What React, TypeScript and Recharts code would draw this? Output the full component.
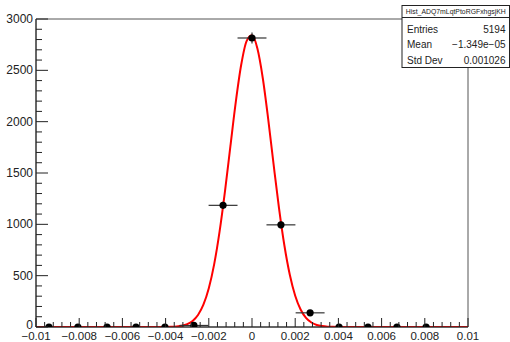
import React from "react";
import {
  ComposedChart,
  ErrorBar,
  Line,
  ReferenceArea,
  Scatter,
  XAxis,
  YAxis,
} from "recharts";

// histogram bins (centre, count, errors)
const BIN_CENTERS = [
  -0.0094, -0.00806, -0.00671, -0.00537, -0.00403, -0.00269, -0.00134, 0,
  0.00134, 0.00269, 0.00403, 0.00537, 0.00671, 0.00806,
];
const BIN_COUNTS = [0, 0, 0, 0, 0, 15, 1185, 2815, 995, 138, 0, 0, 0, 0];
const BIN_ERR_Y = [0, 0, 0, 0, 0, 4, 34, 53, 32, 12, 0, 0, 0, 0];
const BIN_ERR_X = [0, 0, 0, 0, 0, 0.00067, 0.00067, 0.00067, 0.00067, 0.00067, 0, 0, 0, 0];

// gaussian fit curve, sampled (x in units of 1e-3)
const FIT_X = [
  -10, -4, -3.75, -3.5, -3.25, -3, -2.75, -2.5, -2.25, -2, -1.75, -1.5, -1.25,
  -1, -0.75, -0.5, -0.25, 0, 0.25, 0.5, 0.75, 1, 1.25, 1.5, 1.75, 2, 2.25, 2.5,
  2.75, 3, 3.25, 3.5, 3.75, 4, 10,
];
const FIT_Y = [
  0, 0.7, 2, 5, 12, 28, 59, 117, 217, 377, 612, 931, 1324, 1761, 2193, 2554,
  2785, 2841, 2712, 2423, 2025, 1583, 1159, 794, 509, 305, 171, 89, 44, 20, 9,
  3.5, 1.3, 0.5, 0,
];

const X_MAJOR = [-0.01, -0.008, -0.006, -0.004, -0.002, 0, 0.002, 0.004, 0.006, 0.008, 0.01];
const X_LABELS = ["−0.01", "−0.008", "−0.006", "−0.004", "−0.002", "0", "0.002", "0.004", "0.006", "0.008", "0.01"];
const Y_MAJOR = [0, 500, 1000, 1500, 2000, 2500, 3000];
const Y_LABELS = ["0", "500", "1000", "1500", "2000", "2500", "3000"];

const STATS_TITLE = "Hist_ADQ7mLqtPtoRGFxhgsjKH";
const STATS_ROWS = [
  ["Entries", "5194"],
  ["Mean", "−1.349e−05"],
  ["Std Dev", "0.001026"],
];

const W = 510;
const H = 342;
const LEFT = 36;
const BOTTOM = 327;
const FONT = "'Liberation Sans', Arial, Helvetica, sans-serif";
const INK = "#222";

// 5 subdivisions between major ticks, like ROOT's 510 ndivisions
function subdivide(major: number[], n: number) {
  const out: number[] = [];
  for (let i = 0; i < major.length - 1; i++) {
    const step = (major[i + 1] - major[i]) / n;
    for (let k = 0; k < n; k++) out.push(major[i] + k * step);
  }
  out.push(major[major.length - 1]);
  return out;
}

const X_TICKS = subdivide(X_MAJOR, 5);
const Y_TICKS = subdivide(Y_MAJOR, 5);

const histData = BIN_CENTERS.map((x, i) => ({
  x,
  y: BIN_COUNTS[i],
  ex: BIN_ERR_X[i],
  ey: BIN_ERR_Y[i],
}));
const fitData = FIT_X.map((x, i) => ({ x: x / 1000, y: FIT_Y[i] }));

function majorIndex(list: number[], v: number) {
  return list.findIndex((m) => Math.abs(m - v) < 1e-9 * Math.max(1, Math.abs(m)));
}

const XTick = (props: any) => {
  const { x, payload } = props;
  const idx = majorIndex(X_MAJOR, payload.value);
  const len = idx >= 0 ? 9 : 5;
  return (
    <g>
      <line x1={x} x2={x} y1={BOTTOM} y2={BOTTOM - len} stroke={INK} strokeWidth={1} />
      {idx >= 0 && (
        <text x={x} y={BOTTOM + 8.5} textAnchor="middle" dominantBaseline="central"
          fontFamily={FONT} fontSize={11.5} fill={INK}>
          {X_LABELS[idx]}
        </text>
      )}
    </g>
  );
};

const YTick = (props: any) => {
  const { y, payload } = props;
  const idx = majorIndex(Y_MAJOR, payload.value);
  const len = idx >= 0 ? 12 : 6;
  return (
    <g>
      <line x1={LEFT} x2={LEFT + len} y1={y} y2={y} stroke={INK} strokeWidth={1} />
      {idx >= 0 && (
        <text x={LEFT - 3} y={idx === 0 ? y - 2 : y} textAnchor="end" dominantBaseline="central"
          fontFamily={FONT} fontSize={12} fill={INK}>
          {Y_LABELS[idx]}
        </text>
      )}
    </g>
  );
};

const Marker = (props: any) => <circle cx={props.cx} cy={props.cy} r={3.6} fill="#000" />;

function StatsBox() {
  const x0 = 402;
  const x1 = 509.5;
  return (
    <svg width={W} height={H} style={{ position: "absolute", left: 0, top: 0, pointerEvents: "none" }}>
      <rect x={x0} y={5.5} width={x1 - x0} height={62} fill="#fff" stroke={INK} strokeWidth={1} />
      <line x1={x0} x2={x1} y1={17.5} y2={17.5} stroke={INK} strokeWidth={1} />
      <text x={(x0 + x1) / 2} y={11.5} textAnchor="middle" dominantBaseline="central"
        fontFamily={FONT} fontSize={7} fill={INK} textLength={100} lengthAdjust="spacingAndGlyphs">
        {STATS_TITLE}
      </text>
      {STATS_ROWS.map(([k, v], i) => (
        <g key={k}>
          <text x={x0 + 5} y={29 + i * 15.5} dominantBaseline="central" fontFamily={FONT} fontSize={10} fill={INK}>
            {k}
          </text>
          <text x={x1 - 4} y={29 + i * 15.5} textAnchor="end" dominantBaseline="central" fontFamily={FONT} fontSize={10} fill={INK}>
            {v}
          </text>
        </g>
      ))}
    </svg>
  );
}

export default function App() {
  return (
    <div style={{ position: "absolute", left: 0, top: 0, width: W, height: H, background: "#fff" }}>
      <ComposedChart width={W} height={H} margin={{ top: 19, right: 42, bottom: 0, left: 0 }}>
        <XAxis
          type="number"
          dataKey="x"
          domain={[-0.01, 0.01]}
          ticks={X_TICKS}
          interval={0}
          allowDataOverflow
          height={15}
          tickLine={false}
          axisLine={{ stroke: INK }}
          tick={<XTick />}
        />
        <YAxis
          type="number"
          dataKey="y"
          domain={[0, 3000]}
          ticks={Y_TICKS}
          interval={0}
          allowDataOverflow
          width={36}
          tickLine={false}
          axisLine={{ stroke: INK }}
          tick={<YTick />}
        />
        <ReferenceArea x1={-0.01} x2={0.01} y1={0} y2={3000} fill="none" stroke="#555" strokeWidth={1} />
        <Line
          data={fitData}
          dataKey="y"
          type="monotone"
          stroke="#ff0000"
          strokeWidth={2}
          dot={false}
          activeDot={false}
          isAnimationActive={false}
        />
        <Scatter data={histData} dataKey="y" shape={<Marker />} isAnimationActive={false}>
          <ErrorBar dataKey="ex" direction="x" width={0} stroke="#333" strokeWidth={1.2} isAnimationActive={false} />
          <ErrorBar dataKey="ey" direction="y" width={0} stroke="#333" strokeWidth={1.2} isAnimationActive={false} />
        </Scatter>
      </ComposedChart>
      <StatsBox />
    </div>
  );
}
